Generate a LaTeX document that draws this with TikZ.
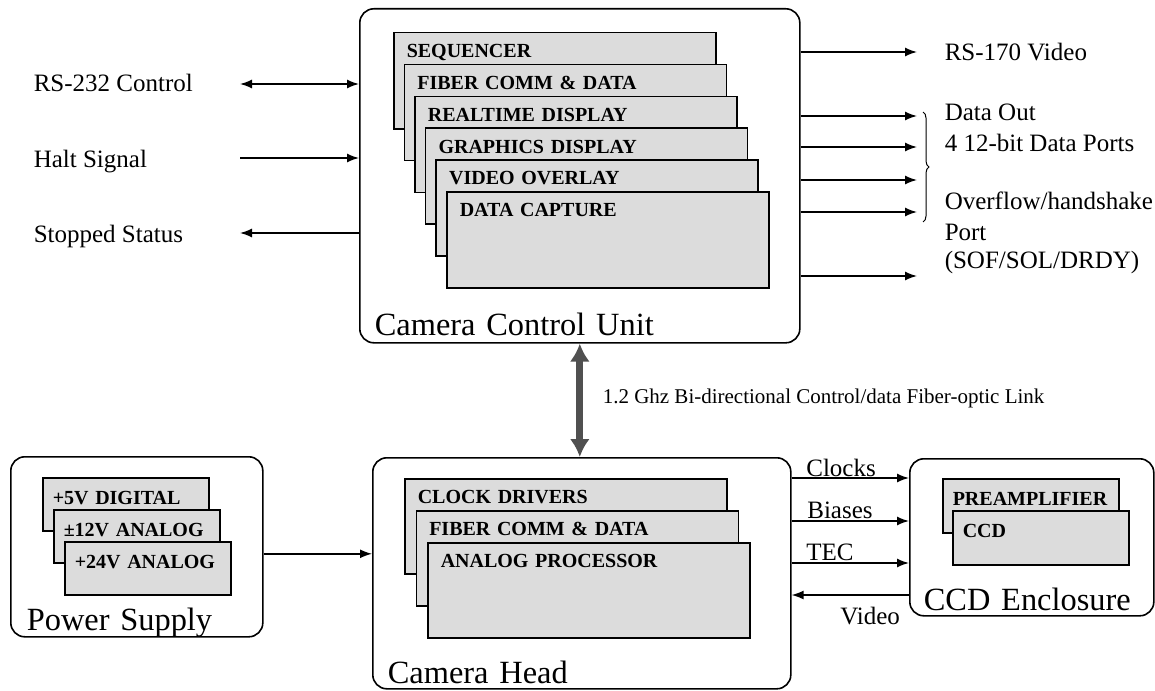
\documentclass[tikz,border=0pt]{standalone}
\usepackage{fontspec}
\setmainfont{Liberation Serif}
\usepackage{tikz}
\usetikzlibrary{positioning,arrows.meta,calc,decorations.pathreplacing}
\definecolor{cardgray}{RGB}{220,220,220}
\definecolor{linkgray}{RGB}{80,80,80}
\tikzset{
  unitbox/.style={draw, line width=1.6pt, rounded corners=14pt, anchor=north west, align=left, inner xsep=15pt, inner ysep=0pt, font=\fontsize{32.4}{36}\selectfont},
  card/.style={draw, line width=1.5pt, fill=cardgray, anchor=north west, align=left, inner xsep=13pt, inner ysep=8pt, text width=296pt, text height=17pt, text depth=63pt, font=\fontsize{20}{24}\selectfont\bfseries},
  smallcard/.style={card, inner xsep=10pt, inner ysep=10pt, text depth=16pt},
  sig/.style={font=\fontsize{25}{29}\selectfont, anchor=base west, inner sep=0pt},
  fiber/.style={line width=7pt, draw=linkgray, {Latex[length=18pt,width=20pt]}-{Latex[length=18pt,width=20pt]}},
}

\begin{document}
\begin{tikzpicture}[x=1pt, y=-1pt, >={Latex[length=12pt,width=9pt]}, line width=1.5pt]
\useasboundingbox (0,0) rectangle (1155,690);

% camera control unit
\node[unitbox, text width=410pt, text height=327pt, text depth=7pt] (ccu) at (359,8) {Camera Control Unit};
\node[card] (seq)   at (393,32)      {SEQUENCER};
\node[card] (fcomm) at (403.6,63.8)  {FIBER COMM \& DATA};
\node[card] (rtd)   at (414.2,95.6)  {REALTIME DISPLAY};
\node[card] (gfx)   at (424.8,127.4) {GRAPHICS DISPLAY};
\node[card] (vov)   at (435.4,159.2) {VIDEO OVERLAY};
\node[card] (dcap)  at (446,191)     {DATA CAPTURE};

% camera head
\node[unitbox, text width=388pt, text height=226pt, text depth=5pt] (head) at (372,457) {Camera Head};
\node[card, text depth=62pt] (clkdrv) at (404,478)   {CLOCK DRIVERS};
\node[card, text depth=62pt] (hfcomm) at (415.5,510) {FIBER COMM \& DATA};
\node[card, text depth=62pt] (aproc)  at (427,542)   {ANALOG PROCESSOR};

% power supply
\node[unitbox, inner xsep=16pt, text width=220pt, text height=174pt, text depth=6pt] (psu) at (10,456) {Power Supply};
\node[smallcard, text width=146pt] (dig5)  at (42,477) {+5V DIGITAL};
\node[smallcard, text width=146pt] (ana12) at (53,509) {±12V ANALOG};
\node[smallcard, text width=146pt] (ana24) at (64,541) {+24V ANALOG};

% ccd enclosure
\node[unitbox, inner xsep=14pt, text width=216pt, text height=152pt, text depth=5pt] (ccd) at (909,458) {CCD Enclosure};
\node[smallcard, text width=156pt, text depth=17pt] (preamp) at (942,478) {PREAMPLIFIER};
\node[smallcard, text width=156pt, text depth=17pt] (chip)   at (952,510) {CCD};

% host side lines
\coordinate (rsx)   at (240,84);
\coordinate (haltx) at (240,158);
\coordinate (stopx) at (240,233);
\draw[<->] (rsx) -- (rsx -| ccu.west);
\draw[->] (haltx) -- (haltx -| ccu.west);
\draw[->] (stopx -| ccu.west) -- (stopx);
\node[sig] (rslbl)   at (33,92)  {RS-232 Control};
\node[sig] (haltlbl) at (33,167) {Halt Signal};
\node[sig] (stoplbl) at (33,242) {Stopped Status};

% outputs
\coordinate (vidx) at (917,52);
\coordinate (d1)   at (917,116);
\coordinate (d2)   at (917,147);
\coordinate (d3)   at (917,180);
\coordinate (d4)   at (917,212);
\coordinate (hsx)  at (917,276);
\draw[->] (vidx -| ccu.east) -- (vidx);
\draw[->] (d1 -| ccu.east) -- (d1);
\draw[->] (d2 -| ccu.east) -- (d2);
\draw[->] (d3 -| ccu.east) -- (d3);
\draw[->] (d4 -| ccu.east) -- (d4);
\draw[->] (hsx -| ccu.east) -- (hsx);
\coordinate (brtop) at (923,112);
\coordinate (brbot) at (923,222);
\draw[decorate, decoration={brace, amplitude=6pt}, line width=1pt] (brtop) -- (brbot);
\node[sig] (vidlbl) at (944,61)  {RS-170 Video};
\node[sig] (dout1)  at (944,121) {Data Out};
\node[sig] (dout2)  at (944,151) {4 12-bit Data Ports};
\node[sig] (hs1)    at (944,209) {Overflow/handshake};
\node[sig] (hs2)    at (944,240) {Port};
\node[sig] (hs3)    at (944,268) {(SOF/SOL/DRDY)};

% fiber link
\draw[fiber] (ccu.south) -- (ccu.south |- head.north);
\node[sig, font=\fontsize{21}{24}\selectfont] (linklbl) at (602,403) {1.2 Ghz Bi-directional Control/data Fiber-optic Link};

% power
\coordinate (pwr) at ($(psu.east)+(0,7)$);
\draw[->] (pwr) -- (pwr -| head.west);

% head to ccd
\coordinate (clkin)  at ($(ccd.north west)+(0,20)$);
\coordinate (biasin) at ($(ccd.north west)+(0,63)$);
\coordinate (tecin)  at ($(ccd.north west)+(0,105)$);
\coordinate (vidin)  at ($(ccd.north west)+(0,137)$);
\draw[->] (clkin -| head.east) -- (clkin) node[sig, pos=0, xshift=14pt, yshift=2pt] {Clocks};
\draw[->] (biasin -| head.east) -- (biasin) node[sig, pos=0, xshift=15pt, yshift=3pt] {Biases};
\draw[->] (tecin -| head.east) -- (tecin) node[sig, pos=0, xshift=14pt, yshift=3pt] {TEC};
\draw[->] (vidin) -- (vidin -| head.east) node[sig, pos=1, xshift=48pt, yshift=-29pt] {Video};
\end{tikzpicture}
\end{document}
